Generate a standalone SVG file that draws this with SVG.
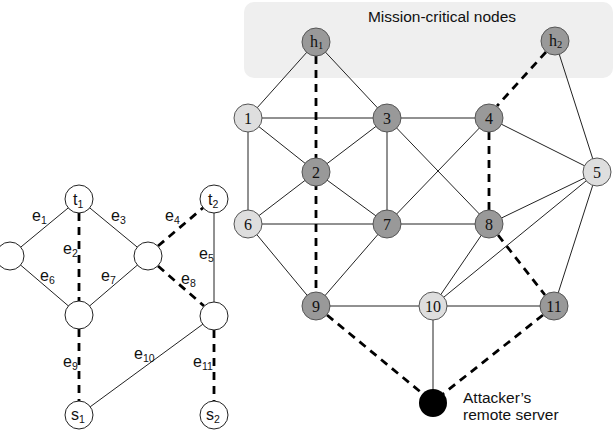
<svg xmlns="http://www.w3.org/2000/svg" width="614" height="438" viewBox="0 0 614 438">
<style>
.s{stroke:#222;stroke-width:1;fill:none}
.d{stroke:#000;stroke-width:2.8;stroke-dasharray:8,6;fill:none}
.wn{fill:#fff;stroke:#222;stroke-width:1}
.dk{fill:#999;stroke:#555;stroke-width:1}
.lt{fill:#dedede;stroke:#555;stroke-width:1}
.t{font-family:"Liberation Sans",Arial,sans-serif;font-size:16px;fill:#111}
.big{font-size:15.5px}
.n{font-family:"Liberation Serif","DejaVu Serif",serif;font-size:16px;fill:#111;text-anchor:middle}
.h{font-family:"Liberation Serif","DejaVu Serif",serif;font-size:16px;fill:#111}
.sub{font-size:10.5px}
</style>
<rect x="244" y="2" width="369" height="76" rx="10" fill="#efefef"/>
<text class="t big" x="442" y="22" text-anchor="middle">Mission-critical nodes</text>
<g id="connectors">
<line class="s" x1="79" y1="199" x2="10" y2="256"/>
<line class="d" x1="79" y1="213" x2="79" y2="301"/>
<line class="s" x1="79" y1="199" x2="148" y2="256"/>
<line class="d" x1="158" y1="246" x2="204" y2="207"/>
<line class="s" x1="214" y1="213" x2="214" y2="302"/>
<line class="s" x1="10" y1="256" x2="79" y2="315"/>
<line class="s" x1="148" y1="256" x2="79" y2="315"/>
<line class="d" x1="158" y1="266" x2="204" y2="306"/>
<line class="d" x1="79" y1="329" x2="79" y2="401"/>
<line class="s" x1="79" y1="415" x2="214" y2="316"/>
<line class="d" x1="214" y1="330" x2="214" y2="401"/>
<line class="s" x1="316" y1="42" x2="248" y2="118"/>
<line class="s" x1="316" y1="42" x2="387" y2="118"/>
<line class="s" x1="555" y1="41" x2="597" y2="172"/>
<line class="s" x1="248" y1="118" x2="489" y2="118"/>
<line class="s" x1="248" y1="118" x2="316" y2="172"/>
<line class="s" x1="248" y1="118" x2="248" y2="224"/>
<line class="s" x1="316" y1="172" x2="387" y2="118"/>
<line class="s" x1="316" y1="172" x2="248" y2="224"/>
<line class="s" x1="316" y1="172" x2="387" y2="224"/>
<line class="s" x1="387" y1="118" x2="387" y2="224"/>
<line class="s" x1="387" y1="118" x2="489" y2="224"/>
<line class="s" x1="489" y1="118" x2="387" y2="224"/>
<line class="s" x1="489" y1="118" x2="597" y2="172"/>
<line class="s" x1="248" y1="224" x2="489" y2="224"/>
<line class="s" x1="489" y1="224" x2="597" y2="172"/>
<line class="s" x1="248" y1="224" x2="316" y2="306"/>
<line class="s" x1="387" y1="224" x2="316" y2="306"/>
<line class="s" x1="489" y1="224" x2="433" y2="306"/>
<line class="s" x1="597" y1="172" x2="433" y2="306"/>
<line class="s" x1="597" y1="172" x2="554" y2="306"/>
<line class="s" x1="316" y1="306" x2="554" y2="306"/>
<line class="s" x1="433" y1="306" x2="433" y2="403"/>
<line class="d" x1="316" y1="56" x2="316" y2="292"/>
<line class="d" x1="546" y1="52" x2="497" y2="106"/>
<line class="d" x1="489" y1="132" x2="489" y2="210"/>
<line class="d" x1="498" y1="235" x2="545" y2="295"/>
<line class="d" x1="327" y1="315" x2="423" y2="394"/>
<line class="d" x1="543" y1="315" x2="443" y2="394"/>
</g>
<g id="left-nodes">
<g id="t1"><circle class="wn" cx="79" cy="199" r="14"/><text class="t" x="73" y="205">t<tspan class="sub" dy="3">1</tspan></text></g>
<g id="t2"><circle class="wn" cx="214" cy="199" r="14"/><text class="t" x="208" y="205">t<tspan class="sub" dy="3">2</tspan></text></g>
<g id="L1"><circle class="wn" cx="10" cy="256" r="14"/></g>
<g id="L2"><circle class="wn" cx="148" cy="256" r="14"/></g>
<g id="L3"><circle class="wn" cx="79" cy="315" r="14"/></g>
<g id="L4"><circle class="wn" cx="214" cy="316" r="14"/></g>
<g id="s1"><circle class="wn" cx="79" cy="415" r="14"/><text class="t" x="71" y="420">s<tspan class="sub" dy="3">1</tspan></text></g>
<g id="s2"><circle class="wn" cx="214" cy="415" r="14"/><text class="t" x="206" y="420">s<tspan class="sub" dy="3">2</tspan></text></g>
</g>
<g id="edge-labels">
<text class="t" x="32" y="221">e<tspan class="sub" dy="3">1</tspan></text>
<text class="t" x="63" y="254">e<tspan class="sub" dy="3">2</tspan></text>
<text class="t" x="111" y="221">e<tspan class="sub" dy="3">3</tspan></text>
<text class="t" x="165" y="221">e<tspan class="sub" dy="3">4</tspan></text>
<text class="t" x="199" y="259">e<tspan class="sub" dy="3">5</tspan></text>
<text class="t" x="40" y="281">e<tspan class="sub" dy="3">6</tspan></text>
<text class="t" x="101" y="281">e<tspan class="sub" dy="3">7</tspan></text>
<text class="t" x="181" y="284">e<tspan class="sub" dy="3">8</tspan></text>
<text class="t" x="63" y="367">e<tspan class="sub" dy="3">9</tspan></text>
<text class="t" x="134" y="359">e<tspan class="sub" dy="3">10</tspan></text>
<text class="t" x="193" y="367">e<tspan class="sub" dy="3">11</tspan></text>
</g>
<g id="h1"><circle class="dk" cx="316" cy="42" r="14"/><text class="h" x="310" y="47">h<tspan class="sub" dy="2">1</tspan></text></g>
<g id="h2"><circle class="dk" cx="555" cy="41" r="14"/><text class="h" x="549" y="46">h<tspan class="sub" dy="2">2</tspan></text></g>
<g id="n1"><circle class="lt" cx="248" cy="118" r="14"/><text class="n" x="248" y="124">1</text></g>
<g id="n3"><circle class="dk" cx="387" cy="118" r="14"/><text class="n" x="387" y="124">3</text></g>
<g id="n4"><circle class="dk" cx="489" cy="118" r="14"/><text class="n" x="489" y="124">4</text></g>
<g id="n2"><circle class="dk" cx="316" cy="172" r="14"/><text class="n" x="316" y="178">2</text></g>
<g id="n5"><circle class="lt" cx="597" cy="172" r="14"/><text class="n" x="597" y="178">5</text></g>
<g id="n6"><circle class="lt" cx="248" cy="224" r="14"/><text class="n" x="248" y="230">6</text></g>
<g id="n7"><circle class="dk" cx="387" cy="224" r="14"/><text class="n" x="387" y="230">7</text></g>
<g id="n8"><circle class="dk" cx="489" cy="224" r="14"/><text class="n" x="489" y="230">8</text></g>
<g id="n9"><circle class="dk" cx="316" cy="306" r="14"/><text class="n" x="316" y="312">9</text></g>
<g id="n10"><circle class="lt" cx="433" cy="306" r="14"/><text class="n" x="433" y="312">10</text></g>
<g id="n11"><circle class="dk" cx="554" cy="306" r="14"/><text class="n" x="554" y="312">11</text></g>
<g id="attacker"><circle cx="433" cy="403" r="14" fill="#000"/><text class="t big" x="463" y="403">Attacker’s</text><text class="t big" x="463" y="420">remote server</text></g>
</svg>
